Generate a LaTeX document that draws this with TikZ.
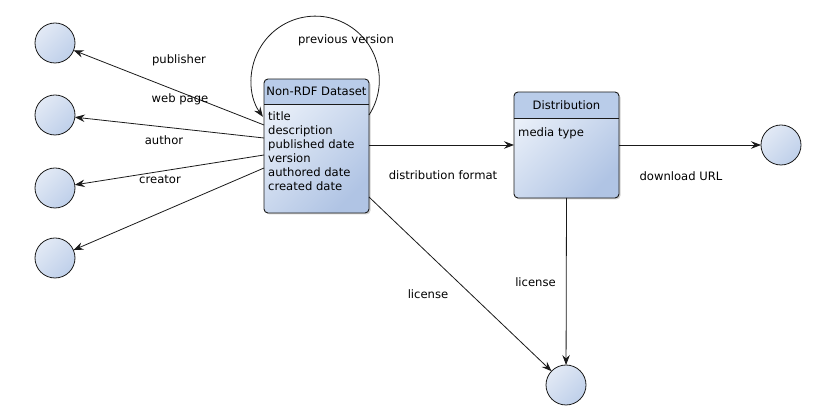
\documentclass[tikz,border=0pt]{standalone}
\usepackage{fontspec}
\setmainfont{DejaVu Sans}
\usetikzlibrary{arrows.meta,shadows,calc}
\definecolor{hdr}{HTML}{B9CCE9}
\definecolor{bodyL}{HTML}{EAF0F9}
\definecolor{bodyD}{HTML}{B0C4E4}
\definecolor{circL}{HTML}{E2E9F5}
\definecolor{circD}{HTML}{BFD0EA}
\definecolor{edge}{HTML}{1A1A1A}
\begin{document}
\begin{tikzpicture}[x=1pt,y=-1pt,
  font=\fontsize{11.6}{14}\selectfont,
  boxbody/.style={rectangle, rounded corners=4pt, inner sep=0pt, outer sep=0pt,
    minimum width=105pt, left color=bodyL, right color=bodyD, shading angle=45,
    drop shadow={shadow xshift=1.5pt, shadow yshift=-1.5pt, opacity=0.35}},
  boxedge/.style={draw=edge, line width=0.9pt, rounded corners=4pt},
  divider/.style={draw=edge, line width=0.8pt},
  res/.style={circle, minimum size=40pt, inner sep=0pt, outer sep=0pt,
    draw=edge, line width=0.8pt, left color=circL, right color=circD, shading angle=45},
  arr/.style={draw=edge, line width=0.8pt, -{Stealth[length=10pt, width=7.5pt, inset=3.5pt]}},
  lbl/.style={inner sep=0pt},
  attr/.style={inner sep=0pt, anchor=base west}]
\useasboundingbox (0,0) rectangle (836,419);

% boxes
\node[boxbody, minimum height=134pt] (ds) at (316.5,146) {};
\node[boxbody, minimum height=106pt] (dist) at (566.5,145) {};

\begin{scope}
  \clip[rounded corners=4pt] (ds.north west) rectangle (ds.south east);
  \fill[hdr] (ds.north west) rectangle ([yshift=-25pt]ds.north east);
\end{scope}
\begin{scope}
  \clip[rounded corners=4pt] (dist.north west) rectangle (dist.south east);
  \fill[hdr] (dist.north west) rectangle ([yshift=-26pt]dist.north east);
\end{scope}
\draw[divider] ([yshift=-25pt]ds.north west) -- ([yshift=-25pt]ds.north east);
\draw[divider] ([yshift=-26pt]dist.north west) -- ([yshift=-26pt]dist.north east);
\draw[boxedge] (ds.north west) rectangle (ds.south east);
\draw[boxedge] (dist.north west) rectangle (dist.south east);

% box texts
\node[lbl] (dshead) at (316.5,91) {Non-RDF Dataset};
\node[attr] (a1) at (268,121) {title};
\node[attr] (a2) at (268,135) {description};
\node[attr] (a3) at (268,149) {published date};
\node[attr] (a4) at (268,163) {version};
\node[attr] (a5) at (268,177) {authored date};
\node[attr] (a6) at (268,191) {created date};
\node[lbl] (disthead) at (566.5,105.5) {Distribution};
\node[attr] (m1) at (518,137) {media type};

% resources
\node[res] (c1) at (55,43) {};
\node[res] (c2) at (55,115) {};
\node[res] (c3) at (55,188) {};
\node[res] (c4) at (55,258) {};
\node[res] (cr) at (781,145) {};
\node[res] (cb) at (566,385) {};

% connectors
\draw[arr] ([yshift=-46pt]ds.north west) -- (c1);
\draw[arr] ([yshift=-59pt]ds.north west) -- (c2);
\draw[arr] ([yshift=-76pt]ds.north west) -- (c3);
\draw[arr] ([yshift=-89pt]ds.north west) -- (c4);
\draw[arr] ([yshift=-36pt]ds.north east) arc[start angle=33, end angle=-215, radius=64];
\draw[arr] (ds.east |- dist.west) -- (dist.west);
\draw[arr] (dist.east) -- (cr);
\draw[arr] (dist.south) -- (cb);
\draw[arr] ([yshift=16pt]ds.south east) -- (cb);

% labels
\node[lbl] (l1) at (179,60) {publisher};
\node[lbl] (l2) at (180,99) {web page};
\node[lbl] (l3) at (164,140) {author};
\node[lbl] (l4) at (160,180) {creator};
\node[lbl] (l5) at (346,40) {previous version};
\node[lbl] (l6) at (443,175) {distribution format};
\node[lbl] (l7) at (428,294) {license};
\node[lbl] (l8) at (535.5,282) {license};
\node[lbl] (l9) at (681,176) {download URL};
\end{tikzpicture}
\end{document}
